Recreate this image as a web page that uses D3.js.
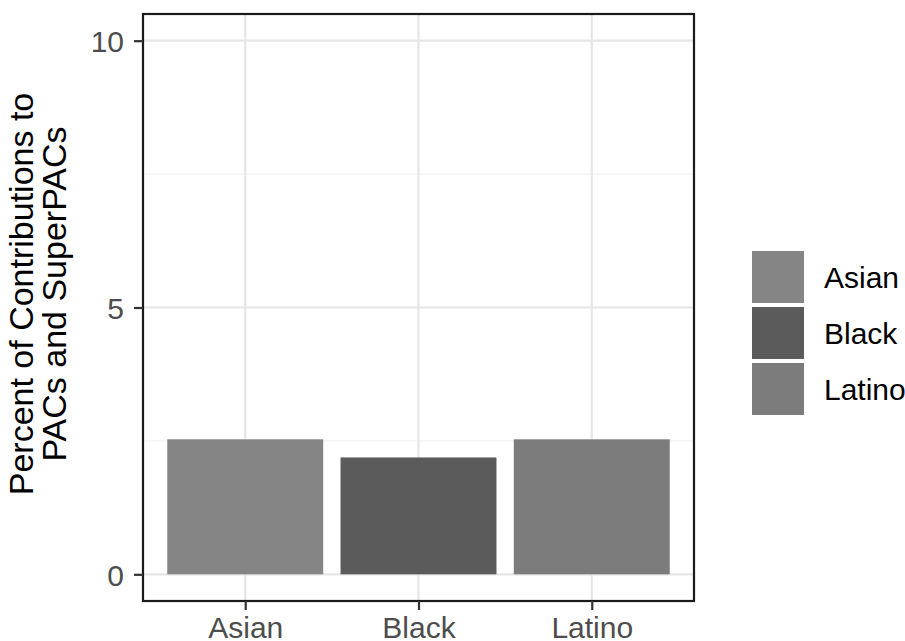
<!DOCTYPE html>
<html><head><meta charset="utf-8">
<script src="https://cdn.jsdelivr.net/npm/d3@7"></script>
<style>body{margin:0;background:#fff}svg{display:block}text{font-family:"Liberation Sans",Arial,sans-serif}</style>
</head><body>
<script>
const categories = ["Asian","Black","Latino"];
const values = [2.53, 2.19, 2.53];
const colors = ["#858585","#5b5b5b","#7c7c7c"];
const yTicks = [0,5,10];
const yMinor = [2.5,7.5];

const W=905,H=641;
const m={left:143,right:694,top:14,bottom:601};
const svg=d3.select("body").append("svg").attr("width",W).attr("height",H);

const xn=d3.scaleLinear().domain([0.41,3.59]).range([m.left,m.right]);
const xc=d=>xn(categories.indexOf(d)+1);
const unit=xn(2)-xn(1);
const y=d3.scaleLinear().domain([-0.5,10.5]).range([m.bottom,m.top]);

const g=svg.append("g");
g.selectAll(".ymin").data(yMinor).join("line")
  .attr("x1",m.left).attr("x2",m.right).attr("y1",d=>y(d)).attr("y2",d=>y(d))
  .attr("stroke","#f2f2f2").attr("stroke-width",1.2);
g.selectAll(".ymaj").data(yTicks).join("line")
  .attr("x1",m.left).attr("x2",m.right).attr("y1",d=>y(d)).attr("y2",d=>y(d))
  .attr("stroke","#e6e6e6").attr("stroke-width",2.2);
g.selectAll(".xmaj").data(categories).join("line")
  .attr("x1",d=>xc(d)).attr("x2",d=>xc(d)).attr("y1",m.top).attr("y2",m.bottom)
  .attr("stroke","#e6e6e6").attr("stroke-width",2.2);

const bw=unit*0.9;
g.selectAll(".bar").data(categories).join("rect")
  .attr("x",d=>xc(d)-bw/2).attr("width",bw)
  .attr("y",(d,i)=>y(values[i])).attr("height",(d,i)=>y(0)-y(values[i]))
  .attr("fill",(d,i)=>colors[i]);

svg.append("rect").attr("x",m.left).attr("y",m.top).attr("width",m.right-m.left).attr("height",m.bottom-m.top)
  .attr("fill","none").attr("stroke","#1a1a1a").attr("stroke-width",2.2);

const ya=svg.append("g").attr("transform",`translate(${m.left},0)`)
  .call(d3.axisLeft(y).tickValues(yTicks).tickSize(9).tickPadding(10));
ya.select(".domain").remove();
ya.selectAll(".tick line").attr("stroke","#333").attr("stroke-width",2.2);
ya.selectAll(".tick text").attr("fill","#4d4d4d").style("font-size","30px").attr("dy","0.36em");

const xa=svg.append("g").attr("transform",`translate(0,${m.bottom})`)
  .call(d3.axisBottom(d3.scalePoint().domain(categories).range([xc(categories[0]),xc(categories[2])])).tickSize(9).tickPadding(8));
xa.select(".domain").remove();
xa.selectAll(".tick line").attr("stroke","#333").attr("stroke-width",2.2);
xa.selectAll(".tick text").attr("fill","#4d4d4d").style("font-size","30px").attr("y",null).attr("dy",null).attr("y",37);

const t=svg.append("text").attr("transform",`translate(0,294) rotate(-90)`)
  .attr("text-anchor","middle").style("font-size","34px").attr("fill","#000");
t.append("tspan").attr("x",0).attr("y",33).text("Percent of Contributions to");
t.append("tspan").attr("x",0).attr("y",66).text("PACs and SuperPACs");

const lg=svg.append("g").attr("transform","translate(751,250)");
const ks=54;
categories.forEach((c,i)=>{
  lg.append("rect").attr("x",0).attr("y",i*(ks+2)).attr("width",ks).attr("height",ks)
    .attr("fill",colors[i]).attr("stroke","#fff").attr("stroke-width",2);
  lg.append("text").attr("x",73).attr("y",i*(ks+2)+ks/2).attr("dy","0.36em")
    .style("font-size","30px").attr("fill","#000").text(c);
});
</script>
</body></html>
